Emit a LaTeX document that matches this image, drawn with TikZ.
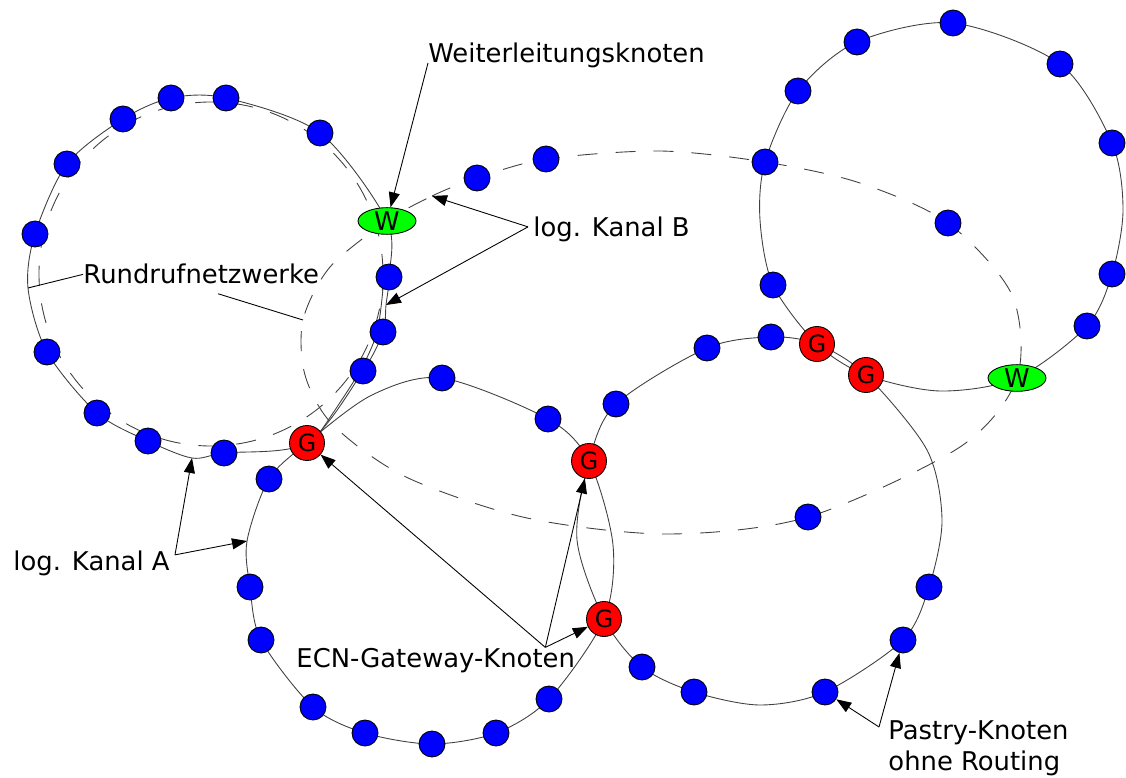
\documentclass[tikz,border=0pt]{standalone}
\usepackage{fontspec}
\setmainfont{DejaVu Sans}
\usetikzlibrary{arrows.meta,shapes.geometric,backgrounds,calc}
\newcommand{\lblsize}{\fontsize{14.7}{17.5}\selectfont}

\begin{document}
\begin{tikzpicture}[x=0.2mm, y=-0.2mm, >={Triangle[length=3mm,width=2.2mm]},
                    font=\lblsize, line width=0.5pt]
    \tikzstyle{pastry} = [circle, draw=black, fill=blue, minimum size=5.2mm, inner sep=0pt]
    \tikzstyle{gateway} = [circle, draw=black, fill=red, minimum size=7mm, inner sep=0pt,
                           font=\fontsize{13.5}{16}\selectfont]
    \tikzstyle{forward} = [ellipse, draw=black, fill=green, minimum width=11.6mm,
                           minimum height=5mm, inner sep=0pt]
    \tikzstyle{ring} = [draw=black!75, line width=0.5pt]
    \tikzstyle{channel} = [ring, dash pattern=on 4mm off 3.6mm]
    \tikzstyle{lbltext} = [inner sep=0pt, anchor=base west]
    \tikzstyle{pointer} = [draw=black, line width=0.5pt]

    \useasboundingbox (0,0) rectangle (1126,778);

    % gateways and forwarding nodes
    \node (gA) [gateway] at (307,443) {G};
    \node (gB) [gateway] at (589,461) {G};
    \node (gC) [gateway] at (604,619) {G};
    \node (gD) [gateway] at (817,344) {G};
    \node (gE) [gateway] at (866,375) {G};
    \node (wA) [forward] at (387,221) {W};
    \node (wB) [forward] at (1017,378) {W};

    % pastry nodes
    \foreach \n/\x/\y in {tl1/171/98, tl2/226/98, tl3/320/133, tl4/389/277, tl5/383/332,
        tl6/363/371, tl7/224/453, tl8/148/441, tl9/97/413, tl10/47/352, tl11/35/234,
        tl12/67/164, tl13/123/119, tr1/953/23, tr2/1060/64, tr3/1112/143, tr4/1112/274,
        tr5/1087/326, tr6/773/285, tr7/765/162, tr8/798/91, tr9/857/42, bl1/442/378,
        bl2/548/419, bl3/549/699, bl4/496/733, bl5/432/744, bl6/365/733, bl7/313/707,
        bl8/261/640, bl9/250/587, bl10/269/479, br1/707/348, br2/771/337, br3/929/587,
        br4/903/640, br5/825/692, br6/694/692, br7/642/667, br8/616/404,
        kb1/477/178, kb2/546/159, kb3/948/223, kb4/808/517}
      \node (\n) [pastry] at (\x,\y) {};

    \coordinate (kaA) at (192,458);
    \coordinate (kaB) at (247,541);
    \coordinate (kbA) at (432,196);
    \coordinate (kbB) at (386,305);
    \coordinate (rdA) at (28,288);
    \coordinate (rdB) at (303,320);

    \begin{scope}[on background layer]
      % top left broadcast ring
      \draw[ring] plot[smooth cycle] coordinates {(tl1.center) (tl2.center) (tl3.center)
        (wA.center) (tl4.center) (kbB) (tl5.center) (tl6.center) (gA.center) (tl7.center)
        (kaA) (tl8.center) (tl9.center) (tl10.center) (rdA) (tl11.center) (tl12.center)
        (tl13.center)};
      \draw[ring] plot[smooth] coordinates {([xshift=-1mm]tl4.center)
        ([xshift=-1.2mm]tl5.center) ([xshift=-1.2mm,yshift=-1mm]tl6.center)
        ([xshift=0.6mm,yshift=-0.8mm]gA.center)};
      \draw[channel] (211,274) circle[radius=34.4mm];
      % bottom left ring
      \draw[ring] plot[smooth cycle] coordinates {(bl1.center) (bl2.center) (gB.center)
        (613,545) (gC.center) (bl3.center) (bl4.center) (bl5.center) (bl6.center)
        (bl7.center) (bl8.center) (bl9.center) (kaB) (bl10.center) (gA.center) (372,395)};
      % bottom right ring
      \draw[ring] plot[smooth cycle] coordinates {(br1.center) (br2.center) (gD.center)
        (gE.center) (927,450) (942,520) (br3.center) (br4.center) (br5.center) (760,705)
        (br6.center) (br7.center) (gC.center) (577,540) (gB.center) (br8.center)};
      % top right ring
      \draw[ring] plot[smooth cycle] coordinates {(tr1.center) (tr2.center) (tr3.center)
        (1123,210) (tr4.center) (tr5.center) (wB.center) (940,391) (gE.center)
        (gD.center) (tr6.center) (760,220) (tr7.center) (tr8.center) (tr9.center)};
      % logical channel B
      \draw[channel] plot[smooth cycle] coordinates {(wA.center) (kbA) (kb1.center)
        (kb2.center) (660,151) (tr7.center) (860,183) (kb3.center) (1012,295)
        (wB.center) (960,447) (kb4.center) (668,534) (527,518) (406,477) (333,425)
        (305,375) (rdB) (330,267)};
    \end{scope}

    % labels
    \node (fwd)  [lbltext] at (428,63) {Weiterleitungsknoten};
    \node (kanB) [lbltext] at (533,237) {log. Kanal B};
    \node (rund) [lbltext] at (83,284) {Rundrufnetzwerke};
    \node (kanA) [lbltext] at (13,570) {log. Kanal A};
    \node (ecn)  [lbltext] at (296,667) {ECN-Gateway-Knoten};
    \node (pas)  [lbltext, align=left] at (888,770) {Pastry-Knoten\\ohne Routing};

    \draw[pointer, ->] (fwd.base west) -- (wA);
    \draw[pointer, ->] ($(kanB.west)+(-5,-3)$) -- (kbA);
    \draw[pointer, ->] ($(kanB.west)+(-5,-3)$) -- (kbB);
    \draw[pointer] (rund.west) -- (rdA);
    \draw[pointer] ($(rund.south)+(17,9)$) -- (rdB);
    \draw[pointer, ->] ($(kanA.east)+(5,-8)$) -- (kaA);
    \draw[pointer, ->] ($(kanA.east)+(5,-8)$) -- (kaB);
    \draw[pointer, ->] ($(ecn.north east)+(-30,0)$) -- (gA);
    \draw[pointer, ->] ($(ecn.north east)+(-30,0)$) -- (gB);
    \draw[pointer, ->] ($(ecn.north east)+(-30,0)$) -- (gC);
    \draw[pointer, ->] ($(pas.north west)+(-9,7)$) -- (br5);
    \draw[pointer, ->] ($(pas.north west)+(-9,7)$) -- (br4);
\end{tikzpicture}
\end{document}
